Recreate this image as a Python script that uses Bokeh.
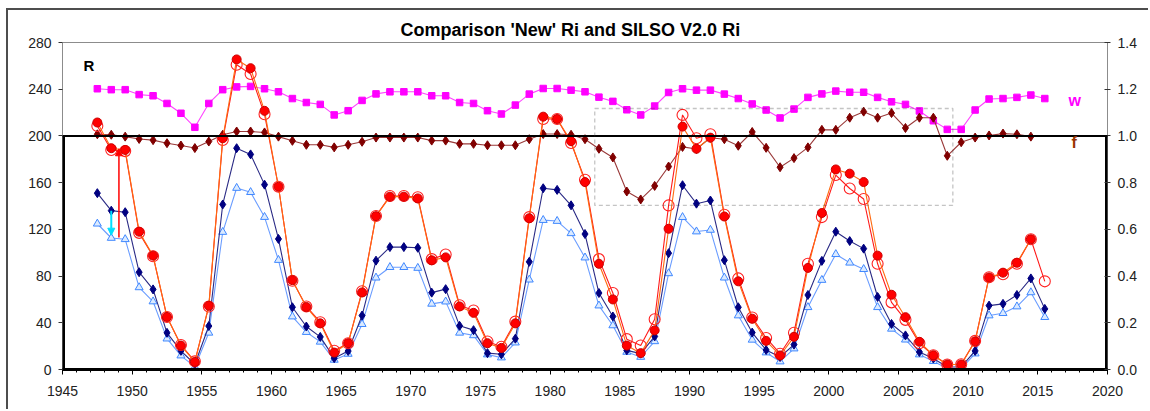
from bokeh.plotting import figure
from bokeh.models import (Range1d, LinearAxis, FixedTicker, NumeralTickFormatter,
                          Span, Label, Arrow, NormalHead, BoxAnnotation, Title)
from bokeh.embed import file_html
from bokeh.resources import INLINE

# ---------------- data ----------------
year_start = 1947
year_end = 2015
years = list(range(year_start, year_end + 1))          # mid-year values plotted at year+0.5

# 'New' Ri (filled red circles)
new_ri = [211.5, 189.5, 188, 118, 97.5, 45, 20.5, 6.5, 54.5, 198,
          265.5, 258, 221.5, 156.5, 76.5, 53.5, 39.5, 14.5, 22.5, 66,
          131.3, 148, 148, 146.5, 93.5, 96, 54, 48.5, 22.5, 18.5,
          39.5, 129.5, 216.5, 214.5, 195.5, 160.5, 90.5, 60, 20.5, 14,
          33.5, 120.5, 208, 189, 198.5, 131, 75.5, 43.5, 24.5, 12,
          28, 87, 134, 171.3, 167.7, 160.5, 97.5, 64, 44.8, 23.7,
          12.2, 4.3, 4.3, 24.1, 78.8, 82.9, 91.4, 111.5]

# SILSO V2.0 Ri (open red circles)
silso_v2 = [208.5, 188, 187, 117, 97, 45, 21, 7, 54, 196.5,
            261, 253, 218.5, 156.5, 76, 54, 40.5, 16, 22.5, 67,
            131.5, 148.5, 148.5, 147.5, 94.5, 98.5, 55, 50.5, 24, 19.5,
            41, 130.5, 214.5, 214.5, 194, 162.5, 94.5, 65.5, 26, 20.5,
            43, 140.5, 218, 198, 201.5, 132.5, 78, 44.5, 27, 13.5,
            31.5, 90.5, 130.5, 166.5, 155, 146, 90.5, 57.5, 42.5, 22.5,
            12.2, 4.3, 4.5, 24.5, 79, 81.5, 90.5, 111.5, 75.5]

# dark blue diamonds
navy_ri = [151, 136, 134.7, 83.3, 68.6, 31.4, 16, 4.5, 37.2, 141.3,
           189.5, 184.2, 158.3, 111.8, 53.3, 36.8, 27.9, 9.7, 15.8, 46.2,
           93.2, 104.8, 104.8, 104.2, 65.8, 68.8, 37.4, 33.7, 14, 13,
           26.4, 92.2, 155.2, 153.8, 140.6, 116, 65.5, 45.4, 16.4, 13.6,
           28.3, 99.6, 157.8, 142, 144.7, 93.6, 53.3, 31.6, 16.7, 10.7,
           21.3, 63.8, 93, 118, 110, 103.5, 62.1, 39, 29.2, 15,
           9.4, 2.2, 2.2, 15.9, 54.7, 56.2, 63.8, 78, 51.9]

# light blue triangles
light_ri = [124.8, 112.6, 111.5, 70.3, 58.2, 26.4, 11.9, 2.2, 31.4, 117.7,
            155.4, 151.8, 130.5, 93.7, 45.3, 32, 23.7, 8.2, 13.3, 38.8,
            78.6, 87.6, 87.6, 86.9, 56.2, 58.1, 31.4, 29.2, 12.8, 10.2,
            23, 76.9, 127.9, 127.1, 116.6, 95.8, 54.7, 37.7, 15, 10.7,
            24.1, 82.3, 130.4, 118.1, 119.5, 78.6, 46.2, 25.4, 14.5, 6.8,
            17.9, 53.3, 76.6, 98.7, 91.4, 85.9, 53.3, 34.8, 25.5, 12.8,
            7.1, 0.8, 0.8, 13.6, 46.2, 48.2, 53.9, 66, 44.8]

# w (right axis, magenta squares)
w_factor = [1.202, 1.198, 1.198, 1.177, 1.172, 1.139, 1.097, 1.037, 1.139, 1.198,
            1.21, 1.212, 1.202, 1.189, 1.16, 1.143, 1.135, 1.09, 1.108, 1.152,
            1.18, 1.189, 1.189, 1.189, 1.172, 1.172, 1.143, 1.139, 1.108, 1.094,
            1.132, 1.179, 1.203, 1.203, 1.196, 1.189, 1.166, 1.148, 1.112, 1.09,
            1.128, 1.186, 1.202, 1.196, 1.196, 1.179, 1.16, 1.137, 1.111, 1.077,
            1.115, 1.165, 1.18, 1.192, 1.187, 1.187, 1.165, 1.146, 1.135, 1.107,
            1.065, 1.028, 1.028, 1.111, 1.158, 1.16, 1.165, 1.175, 1.16]

# f (right axis, brown diamonds)
f_factor = [1.007, 1.005, 0.997, 0.987, 0.982, 0.969, 0.959, 0.948, 0.976, 1.005,
            1.019, 1.019, 1.015, 0.997, 0.979, 0.962, 0.962, 0.951, 0.962, 0.975,
            0.993, 0.993, 0.993, 0.993, 0.98, 0.98, 0.966, 0.966, 0.96, 0.96,
            0.96, 0.986, 1.008, 1.008, 1.005, 0.986, 0.945, 0.908, 0.762, 0.728,
            0.786, 0.869, 0.953, 0.944, 0.992, 0.986, 0.958, 1.017, 0.949, 0.866,
            0.905, 0.951, 1.026, 1.026, 1.078, 1.104, 1.078, 1.098, 1.034, 1.078,
            1.078, 0.915, 0.973, 0.993, 1.002, 1.01, 1.007, 0.997]

x_ticks = [1945, 1950, 1955, 1960, 1965, 1970, 1975, 1980, 1985, 1990, 1995, 2000, 2005, 2010, 2015, 2020]
left_ticks = [0, 40, 80, 120, 160, 200, 240, 280]
right_ticks = [0.0, 0.2, 0.4, 0.6, 0.8, 1.0, 1.2, 1.4]

reference_level = 200
box_years = [1983.2, 2008.9]
box_values = [140.5, 223.5]
red_arrow = [1949.05, 113, 189]      # x, from, to
cyan_arrow = [1948.5, 136, 115]      # x, from, to

# ---------------- figure ----------------
xs = [y + 0.5 for y in years]
FONT = "Liberation Sans"

p = figure(width=1142, height=401, x_range=Range1d(1945, 2020), y_range=Range1d(0, 280),
           output_backend="svg", toolbar_location=None,
           min_border_left=54, min_border_right=43, min_border_top=32, min_border_bottom=42,
           styles={"border-left": "2px solid #4d4d4d", "border-top": "2px solid #4d4d4d",
                   "margin-left": "6px", "margin-top": "8px"})
p.extra_y_ranges = {"r": Range1d(0, 1.4)}
p.grid.visible = False
p.outline_line_color = "#8c8c8c"
p.outline_line_width = 1
p.background_fill_color = "white"
p.border_fill_color = "white"

p.add_layout(Title(text="Comparison 'New' Ri and SILSO V2.0 Ri", text_font=FONT,
                   text_font_style="bold", text_font_size="18px", align="left",
                   offset=338, standoff=6, text_color="black"), "above")

# x axis
xa = p.xaxis[0]
xa.ticker = FixedTicker(ticks=x_ticks, minor_ticks=list(range(1945, 2021)))
xa.axis_line_width = 3
xa.axis_line_color = "black"
xa.major_tick_in = 0
xa.major_tick_out = 5
xa.minor_tick_in = 0
xa.minor_tick_out = 3
xa.major_tick_line_color = "black"
xa.minor_tick_line_color = "black"
xa.major_label_standoff = 11
xa.major_label_text_font = FONT
xa.major_label_text_font_size = "14px"
xa.major_label_text_color = "#222222"

# left axis
ya = p.yaxis[0]
ya.ticker = FixedTicker(ticks=left_ticks, minor_ticks=[])
ya.axis_line_color = None
ya.major_tick_in = 0
ya.major_tick_out = 4
ya.major_tick_line_color = "#333333"
ya.major_label_standoff = 7
ya.major_label_text_font = FONT
ya.major_label_text_font_size = "14px"
ya.major_label_text_color = "#222222"

# right axis
ra = LinearAxis(y_range_name="r", ticker=FixedTicker(ticks=right_ticks, minor_ticks=[]),
                formatter=NumeralTickFormatter(format="0.0"))
ra.axis_line_color = None
ra.major_tick_in = 3
ra.major_tick_out = 3
ra.major_tick_line_color = "#333333"
ra.major_label_standoff = 7
ra.major_label_text_font = FONT
ra.major_label_text_font_size = "14px"
ra.major_label_text_color = "#222222"
p.add_layout(ra, "right")

# thick black axis segments up to the reference level
p.segment(x0=[1945, 2020], y0=[0, 0], x1=[1945, 2020], y1=[reference_level, reference_level],
          line_color="black", line_width=5)

# reference line
p.add_layout(Span(location=reference_level, dimension="width", line_color="black", line_width=2))

# dashed box
p.add_layout(BoxAnnotation(left=box_years[0], right=box_years[1], bottom=box_values[0], top=box_values[1],
                           fill_alpha=0, line_color="#3c3c3c", line_dash="4 3", line_width=1.3))

# light blue triangles
p.line(xs, light_ri, line_color="#6b9dff", line_width=1.1)
p.scatter(xs, light_ri, marker="triangle", size=8, fill_color="#dbeaff", line_color="#3f88ff", line_width=1)

# navy diamonds
p.line(xs, navy_ri, line_color="#2a2a85", line_width=1.1)
p.scatter(xs, navy_ri, marker="diamond", size=9, fill_color="#000080", line_color="#000080")

# w magenta squares
p.line(xs, w_factor, y_range_name="r", line_color="#ff44ff", line_width=1.1)
p.scatter(xs, w_factor, y_range_name="r", marker="square", size=6.5, fill_color="#ff00ff", line_color="#ff00ff")

# f brown diamonds
xs_f = xs[:len(f_factor)]
p.line(xs_f, f_factor, y_range_name="r", line_color="#9a3a3a", line_width=1.1)
p.scatter(xs_f, f_factor, y_range_name="r", marker="diamond", size=9, fill_color="#800000", line_color="#800000")

# SILSO V2.0 open circles
p.line(xs, silso_v2, line_color="#ff1a1a", line_width=1.1)
p.scatter(xs, silso_v2, marker="circle", size=11, fill_alpha=0, line_color="#ff2020", line_width=1.1)

# New Ri filled circles
xs_n = xs[:len(new_ri)]
p.line(xs_n, new_ri, line_color="#ff6a10", line_width=1.1)
p.scatter(xs_n, new_ri, marker="circle", size=9, fill_color="#ff0000", line_color="#cc0000", line_width=1)

# arrows
p.add_layout(Arrow(x_start=red_arrow[0], y_start=red_arrow[1], x_end=red_arrow[0], y_end=red_arrow[2],
                   line_color="#ff0000", line_width=1.5,
                   end=NormalHead(size=7, fill_color="#ff0000", line_color="#ff0000")))
p.add_layout(Arrow(x_start=cyan_arrow[0], y_start=cyan_arrow[1], x_end=cyan_arrow[0], y_end=cyan_arrow[2],
                   line_color="#00e0ff", line_width=2,
                   end=NormalHead(size=7, fill_color="#00e0ff", line_color="#00e0ff")))

# texts
p.add_layout(Label(x=1946.9, y=260.5, text="R", text_font=FONT, text_font_style="bold",
                   text_font_size="15px", text_align="center", text_baseline="middle", text_color="black"))
p.add_layout(Label(x=2017.65, y=1.153, y_range_name="r", text="w", text_font=FONT,
                   text_font_style="bold", text_font_size="16px", text_align="center",
                   text_baseline="middle", text_color="#ff00ff"))
p.add_layout(Label(x=2017.6, y=0.972, y_range_name="r", text="f", text_font=FONT,
                   text_font_style="bold", text_font_size="16px", text_align="center",
                   text_baseline="middle", text_color="#993300"))

open("out.html", "w").write(file_html(p, INLINE))
